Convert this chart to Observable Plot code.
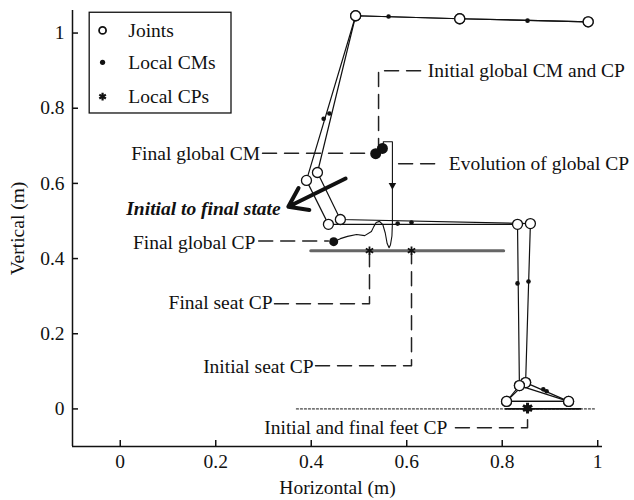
<!DOCTYPE html>
<html>
<head>
<meta charset="utf-8">
<script src="https://cdn.jsdelivr.net/npm/d3@7"></script>
<script src="https://cdn.jsdelivr.net/npm/@observablehq/plot@0.6"></script>
<style>
  body { margin: 0; background: #fff; }
  #chart { width: 634px; height: 500px; }
  #chart svg text { font-family: 'Liberation Serif', 'Times New Roman', serif; }
</style>
</head>
<body>
<div id="chart"></div>
<script>
// Axis ticks (m)
const xTicks = [0, 0.2, 0.4, 0.6, 0.8, 1];
const yTicks = [0, 0.2, 0.4, 0.6, 0.8, 1];

// Body chains: wrist, elbow, shoulder, lumbar, hip, knee, ankle, toe, heel, ankle
const initialX = [0.980, 0.711, 0.493, 0.413, 0.461, 0.859, 0.849, 0.939, 0.809, 0.849];
const initialY = [1.030, 1.038, 1.046, 0.629, 0.504, 0.493, 0.070, 0.020, 0.020, 0.070];
const finalX   = [0.980, 0.711, 0.493, 0.390, 0.436, 0.832, 0.836, 0.939, 0.809, 0.836];
const finalY   = [1.030, 1.038, 1.046, 0.608, 0.491, 0.491, 0.062, 0.020, 0.020, 0.062];

// Segment centres of mass
const localCmX = [0.562, 0.853, 0.426, 0.438, 0.581, 0.610, 0.832, 0.855, 0.886, 0.893];
const localCmY = [1.044, 1.033, 0.772, 0.786, 0.493, 0.496, 0.334, 0.339, 0.052, 0.047];

// Global centre of mass: initial, final
const globalCmX = [0.549, 0.535];
const globalCmY = [0.693, 0.679];

// Trajectory of the global centre of pressure, initial to final
const cpPathX = [0.551, 0.551, 0.570, 0.570, 0.569, 0.566, 0.563, 0.559, 0.555, 0.550, 0.543, 0.536, 0.531, 0.526, 0.512, 0.495, 0.476, 0.461, 0.447];
const cpPathY = [0.695, 0.711, 0.711, 0.495, 0.460, 0.437, 0.429, 0.440, 0.468, 0.490, 0.499, 0.496, 0.485, 0.472, 0.461, 0.464, 0.459, 0.453, 0.445];
const finalCpX = [0.447];
const finalCpY = [0.445];

// Seat and feet contact points
const seatCpX = [0.522, 0.610];
const seatCpY = [0.421, 0.421];
const feetCpX = [0.853];
const feetCpY = [0.002];

// Seat and floor
const seatX = [0.399, 0.803];
const seatY = 0.421;
const floorDottedX = [0.369, 0.993];
const floorSolidX = [0.807, 0.964];

// Callout texts and their leaders
const notes = [
  {text: "Initial global CM and CP", x: 0.644, y: 0.900, anchor: "start",
   lx: [0.629, 0.541, 0.541], ly: [0.900, 0.900, 0.703]},
  {text: "Final global CM", x: 0.293, y: 0.680, anchor: "end",
   lx: [0.298, 0.525], ly: [0.680, 0.680]},
  {text: "Evolution of global CP", x: 0.688, y: 0.653, anchor: "start",
   lx: [0.583, 0.673], ly: [0.652, 0.652]},
  {text: "Final global CP", x: 0.283, y: 0.442, anchor: "end",
   lx: [0.290, 0.436], ly: [0.447, 0.447]},
  {text: "Final seat CP", x: 0.319, y: 0.283, anchor: "end",
   lx: [0.323, 0.522, 0.522], ly: [0.280, 0.280, 0.413]},
  {text: "Initial seat CP", x: 0.405, y: 0.113, anchor: "end",
   lx: [0.409, 0.610, 0.610], ly: [0.115, 0.115, 0.413]},
  {text: "Initial and final feet CP", x: 0.685, y: -0.049, anchor: "end",
   lx: [0.702, 0.853, 0.853], ly: [-0.050, -0.050, -0.006]}
];

// Direction of movement
const moveArrow = {x1: 0.472, y1: 0.613, x2: 0.352, y2: 0.538, label: "Initial to final state", lx: 0.336, ly: 0.533};

// Legend
const legendLabels = ["Joints", "Local CMs", "Local CPs"];
const legendSymX = -0.037;
const legendTextX = 0.017;
const legendY = [1.007, 0.922, 0.831];
const legendBox = {x1: -0.064, x2: 0.233, y1: 0.786, y2: 1.054};

const serif = "'Liberation Serif', 'Times New Roman', serif";
const fs = 19.5;

const toPoints = (xs, ys, extra = {}) => xs.map((x, i) => ({x, y: ys[i], ...extra}));
const chains = [
  ...toPoints(initialX, initialY, {state: "initial"}),
  ...toPoints(finalX, finalY, {state: "final"})
];
const cms = toPoints(localCmX, localCmY);
const leaders = notes.flatMap((n, k) => n.lx.map((x, i) => ({id: k, x, y: n.ly[i]})));
const fmt = d => String(d);

const chart = Plot.plot({
  width: 634,
  height: 500,
  marginLeft: 72,
  marginRight: 32,
  marginTop: 10,
  marginBottom: 54,
  style: {fontFamily: serif, fontSize: `${fs}px`, color: "#111", background: "#fff"},
  x: {domain: [-0.1, 1.01]},
  y: {domain: [-0.1, 1.06]},
  marks: [
    // axes with inward ticks
    Plot.axisX({ticks: xTicks, tickSize: 0, tickPadding: 8, tickFormat: fmt, fontSize: fs, fontFamily: serif,
      label: "Horizontal (m)", labelAnchor: "center", labelArrow: "none", labelOffset: 47}),
    Plot.axisY({ticks: yTicks, tickSize: 0, tickPadding: 8, tickFormat: fmt, fontSize: fs, fontFamily: serif,
      label: "Vertical (m)", labelAnchor: "center", labelArrow: "none", labelOffset: 62}),
    Plot.tickX(xTicks, {x: d => d, insetTop: 430, stroke: "#111", strokeWidth: 1.5}),
    Plot.tickY(yTicks, {y: d => d, insetRight: 524, stroke: "#111", strokeWidth: 1.5}),
    Plot.ruleY([-0.1], {stroke: "#111", strokeWidth: 1.5}),
    Plot.ruleX([-0.1], {stroke: "#111", strokeWidth: 1.5}),

    // legend
    Plot.rect([legendBox], {x1: "x1", x2: "x2", y1: "y1", y2: "y2", stroke: "#111", strokeWidth: 1.3, fill: "white"}),
    Plot.dot([legendY[0]], {x: () => legendSymX, y: d => d, r: 3.5, stroke: "#111", strokeWidth: 1.8, fill: "white"}),
    Plot.dot([legendY[1]], {x: () => legendSymX, y: d => d, r: 2.6, fill: "#111"}),
    Plot.dot([legendY[2]], {x: () => legendSymX, y: d => d, r: 3.6, symbol: "asterisk", stroke: "#111", strokeWidth: 2.2}),
    Plot.text(legendLabels, {x: () => legendTextX, y: (d, i) => legendY[i], text: d => d, textAnchor: "start", fontSize: fs, fill: "#111"}),

    // seat and floor
    Plot.line(seatX.map(x => ({x, y: seatY})), {x: "x", y: "y", stroke: "#666", strokeWidth: 3}),
    Plot.line(floorDottedX.map(x => ({x, y: 0})), {x: "x", y: "y", stroke: "#444", strokeWidth: 1.2, strokeDasharray: "2,2"}),
    Plot.line(floorSolidX.map(x => ({x, y: 0})), {x: "x", y: "y", stroke: "#111", strokeWidth: 1.6}),

    // leaders
    Plot.line(leaders, {x: "x", y: "y", z: "id", stroke: "#222", strokeWidth: 1.5, strokeDasharray: "14,8"}),

    // body segments
    Plot.line(chains, {x: "x", y: "y", z: "state", stroke: "#111", strokeWidth: 1.2}),

    // global CP trajectory
    Plot.line(toPoints(cpPathX, cpPathY), {x: "x", y: "y", stroke: "#111", strokeWidth: 1.1}),
    Plot.dot([{x: cpPathX[3], y: 0.595}], {x: "x", y: "y", symbol: "triangle2", r: 3.6, fill: "#111", rotate: 180}),

    // joints and local CMs
    Plot.dot(chains, {x: "x", y: "y", r: 5, stroke: "#111", strokeWidth: 1.3, fill: "white"}),
    Plot.dot(cms, {x: "x", y: "y", r: 2.3, fill: "#111"}),

    // global CMs and CPs
    Plot.dot(toPoints(globalCmX, globalCmY), {x: "x", y: "y", r: 5.5, fill: "#111"}),
    Plot.dot(toPoints(finalCpX, finalCpY), {x: "x", y: "y", r: 4.5, fill: "#111"}),
    Plot.dot(toPoints(seatCpX, seatCpY), {x: "x", y: "y", r: 4, symbol: "asterisk", stroke: "#111", strokeWidth: 1.8}),
    Plot.dot(toPoints(feetCpX, feetCpY), {x: "x", y: "y", r: 5, symbol: "asterisk", stroke: "#111", strokeWidth: 3}),
    Plot.dot(toPoints(feetCpX, feetCpY), {x: "x", y: "y", r: 3.5, fill: "#111"}),

    // movement arrow
    Plot.arrow([moveArrow], {x1: "x1", y1: "y1", x2: "x2", y2: "y2", stroke: "#111", strokeWidth: 4, headLength: 10, headAngle: 70}),
    Plot.text([moveArrow], {x: "lx", y: "ly", text: "label", textAnchor: "end", fontSize: fs, fontWeight: "bold", fontStyle: "italic", fill: "#111"}),

    // callout texts
    Plot.text(notes.filter(n => n.anchor === "start"), {x: "x", y: "y", text: "text", textAnchor: "start", fontSize: fs, fill: "#111"}),
    Plot.text(notes.filter(n => n.anchor === "end"), {x: "x", y: "y", text: "text", textAnchor: "end", fontSize: fs, fill: "#111"})
  ]
});

document.getElementById("chart").appendChild(chart);
</script>
</body>
</html>
